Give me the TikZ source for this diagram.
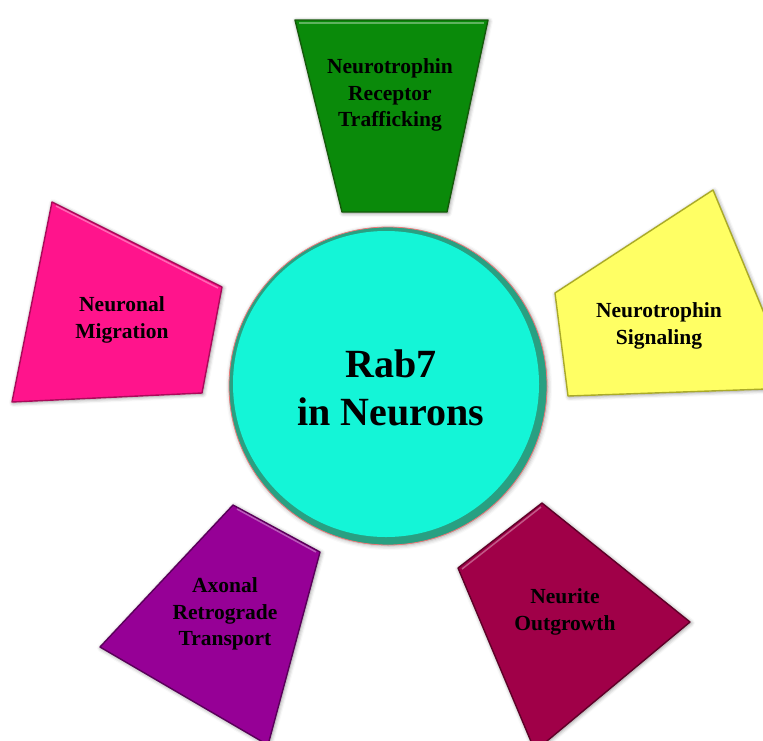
\documentclass[tikz,border=0pt]{standalone}
\usepackage{fontspec}
\setmainfont{Liberation Serif}
\usetikzlibrary{shadows.blur}
\definecolor{cgreen}{RGB}{10,138,10}
\definecolor{cgreenD}{RGB}{20,90,10}
\definecolor{cpink}{RGB}{255,20,140}
\definecolor{cpinkD}{RGB}{170,10,90}
\definecolor{cyel}{RGB}{255,255,100}
\definecolor{cyelD}{RGB}{170,170,40}
\definecolor{cpurp}{RGB}{150,0,150}
\definecolor{cpurpD}{RGB}{90,0,90}
\definecolor{cmar}{RGB}{160,0,72}
\definecolor{cmarD}{RGB}{95,0,40}
\definecolor{ccyan}{RGB}{20,245,215}
\definecolor{ccyanD}{RGB}{40,160,130}
\definecolor{crim}{RGB}{235,120,120}
\tikzset{
  panel/.style={line width=1.4pt, line join=round,
    blur shadow={shadow xshift=1pt, shadow yshift=-1pt, shadow blur radius=4pt, shadow opacity=45}},
  lbl/.style={font=\fontsize{21.5}{26.5}\selectfont\bfseries, align=center, text=black, inner sep=0pt},
  big/.style={font=\fontsize{40}{48}\selectfont\bfseries, align=center, text=black, inner sep=0pt}
}
\begin{document}
\begin{tikzpicture}[x=1pt,y=-1pt]
\useasboundingbox (0,0) rectangle (763,740);
\clip (0,0) rectangle (763,740);
% panels
\draw[panel, fill=cgreen, draw=cgreenD] (295,20) -- (488,20) -- (447,212) -- (342,212) -- cycle;
\draw[panel, fill=cpink, draw=cpinkD] (52,202) -- (222,287) -- (202,393) -- (12,402) -- cycle;
\draw[panel, fill=cyel, draw=cyelD] (713,190) -- (795,388) -- (568,396) -- (555,293) -- cycle;
\draw[panel, fill=cpurp, draw=cpurpD] (233,505) -- (320,552) -- (268,745) -- (100,647) -- cycle;
\draw[panel, fill=cmar, draw=cmarD] (542,503) -- (690,622) -- (535,751) -- (458,568) -- cycle;
% highlights (bevel)
\draw[white, opacity=0.35, line width=1.5pt] (299,23) -- (484,23);
\draw[white, opacity=0.35, line width=1.5pt] (56,206) -- (218,288);
\draw[white, opacity=0.35, line width=1.5pt] (237,509) -- (316,552);
\draw[white, opacity=0.35, line width=1.5pt] (541,507) -- (462,569);
% centre circle
\fill[ccyanD, blur shadow={shadow xshift=1pt, shadow yshift=-1pt, shadow blur radius=4pt, shadow opacity=35}] (388,386) circle[radius=159];
\fill[ccyan] (386,384) circle[radius=153];
\draw[crim, line width=0.8pt] (388,386) circle[radius=159];
% labels
\node[lbl] (nrt) at (390,95) {Neurotrophin\\Receptor\\Trafficking};
\node[lbl] (nm) at (122,320) {Neuronal\\Migration};
\node[lbl] (ns) at (659,326) {Neurotrophin\\Signaling};
\node[lbl] (art) at (225,614) {Axonal\\Retrograde\\Transport};
\node[lbl] (no) at (565,612) {Neurite\\Outgrowth};
\node[big] (rab) at (391,388) {Rab7\\in Neurons};
\end{tikzpicture}
\end{document}
